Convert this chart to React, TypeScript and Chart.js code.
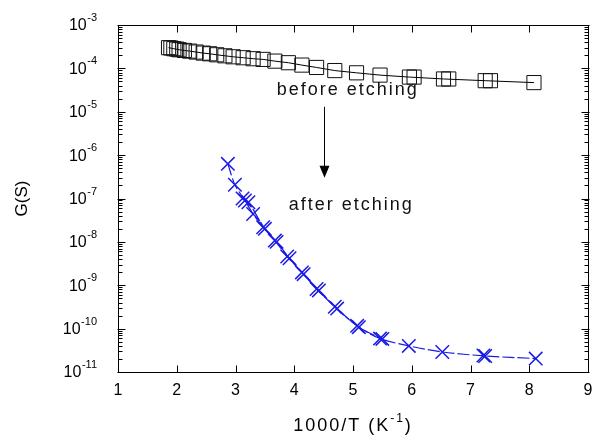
import React, { useEffect, useRef } from 'react';
import { Chart, registerables } from 'chart.js';
Chart.register(...registerables);

// "before etching" run (squares)
const beforeX = [1.86, 1.95, 2.04, 2.13, 2.22, 2.33, 2.45, 2.56, 2.68, 2.82, 2.96, 3.13, 3.30, 3.47, 3.67, 3.90, 4.13, 4.38, 4.69, 5.06, 5.46, 5.96, 6.54, 7.25, 8.08];
const beforeG = [3.0e-4, 2.84e-4, 2.69e-4, 2.59e-4, 2.5e-4, 2.38e-4, 2.25e-4, 2.17e-4, 2.06e-4, 1.95e-4, 1.85e-4, 1.76e-4, 1.67e-4, 1.61e-4, 1.47e-4, 1.35e-4, 1.19e-4, 1.05e-4, 8.9e-5, 7.9e-5, 7.0e-5, 6.3e-5, 5.7e-5, 5.2e-5, 4.7e-5];
// repeated measurements (overlapping squares)
const beforeX2 = [1.90, 2.00, 6.04, 6.63, 7.34];
const beforeG2 = [2.95e-4, 2.78e-4, 6.3e-5, 5.7e-5, 5.2e-5];

// "after etching" run (crosses)
const afterX = [2.87, 2.99, 3.16, 3.30, 3.47, 3.67, 3.88, 4.13, 4.38, 4.69, 5.07, 5.46, 5.95, 6.52, 7.25, 8.11];
const afterG = [6.3e-7, 2.07e-7, 9.0e-8, 4.4e-8, 2.17e-8, 1.07e-8, 4.6e-9, 1.98e-9, 8.2e-10, 3.2e-10, 1.16e-10, 5.9e-11, 4.0e-11, 2.9e-11, 2.34e-11, 2.04e-11];
// repeated measurements (second, slightly offset run)
const afterX2 = [3.12, 3.22, 3.50, 3.70, 3.92, 4.16, 4.42, 4.73, 5.10, 5.50];
const afterG2 = [1.0e-7, 8.2e-8, 2.0e-8, 1.0e-8, 4.2e-9, 1.8e-9, 7.6e-10, 2.9e-10, 1.08e-10, 5.8e-11];
const afterX3 = [7.22];
const afterG3 = [2.4e-11];

const xTicks = [1, 2, 3, 4, 5, 6, 7, 8, 9];
const yExponents = [-3, -4, -5, -6, -7, -8, -9, -10, -11];

const xTitle = '1000/T (K';
const xTitleSup = '-1';
const yTitle = 'G(S)';
const labelBefore = 'before etching';
const labelAfter = 'after etching';
const labelBeforePos = { x: 4.91, g: 2.45e-5 };
const labelAfterPos = { x: 4.97, g: 5.4e-8 };
const arrow = { x: 4.5, from: 1.3e-5, to: 3.0e-7 };

const FONT = '"Liberation Sans", Arial, sans-serif';
const BLUE = '#1a1ae6';

const pts = (xs: number[], ys: number[]) => xs.map((x, i) => ({ x, y: ys[i] }));

const framePlugin = {
  id: 'framePlugin',
  afterDraw(chart: any) {
    const { ctx, chartArea: a, scales } = chart;
    const xs = scales.x;
    const ys = scales.y;
    ctx.save();
    ctx.strokeStyle = '#000';
    ctx.fillStyle = '#000';
    ctx.lineWidth = 1;
    const L = Math.round(a.left) + 0.5;
    const R = Math.round(a.right) + 0.5;
    const T = Math.round(a.top) + 0.5;
    const B = Math.round(a.bottom) + 0.5;
    ctx.strokeRect(L, T, R - L, B - T);

    ctx.beginPath();
    xTicks.forEach((v) => {
      const px = Math.round(xs.getPixelForValue(v)) + 0.5;
      if (v > xTicks[0] && v < xTicks[xTicks.length - 1]) {
        ctx.moveTo(px, B);
        ctx.lineTo(px, B - 7);
        ctx.moveTo(px, T);
        ctx.lineTo(px, T + 7);
      }
    });
    for (let e = -11; e <= -3; e++) {
      const py = Math.round(ys.getPixelForValue(Math.pow(10, e))) + 0.5;
      ctx.moveTo(L - 1, py);
      ctx.lineTo(L + 7, py);
      ctx.moveTo(R + 1, py);
      ctx.lineTo(R - 7, py);
      if (e < -3) {
        for (let k = 2; k <= 9; k++) {
          const my = Math.round(ys.getPixelForValue(k * Math.pow(10, e))) + 0.5;
          ctx.moveTo(L, my);
          ctx.lineTo(L + 4, my);
          ctx.moveTo(R, my);
          ctx.lineTo(R - 4, my);
        }
      }
    }
    ctx.stroke();

    ctx.font = `16px ${FONT}`;
    ctx.textAlign = 'center';
    ctx.textBaseline = 'middle';
    xTicks.forEach((v) => {
      ctx.fillText(String(v), xs.getPixelForValue(v), a.bottom + 19);
    });

    yExponents.forEach((e) => {
      const py = ys.getPixelForValue(Math.pow(10, e));
      const right = a.left - 21;
      ctx.font = `11px ${FONT}`;
      ctx.textAlign = 'right';
      ctx.textBaseline = 'middle';
      const sup = String(e);
      const sw = ctx.measureText(sup).width;
      ctx.fillText(sup, right, py - 7);
      ctx.font = `16px ${FONT}`;
      ctx.fillText('10', right - sw - 0.5, py + 1);
    });

    (ctx as any).letterSpacing = '2px';
    ctx.font = `18px ${FONT}`;
    const w1 = ctx.measureText(xTitle).width;
    ctx.font = `12px ${FONT}`;
    const w2 = ctx.measureText(xTitleSup).width;
    ctx.font = `18px ${FONT}`;
    const w3 = ctx.measureText(')').width;
    const total = w1 + w2 + w3;
    let sx = (a.left + a.right) / 2 - total / 2;
    const ty = 426;
    ctx.textAlign = 'left';
    ctx.textBaseline = 'middle';
    ctx.fillText(xTitle, sx, ty);
    sx += w1;
    ctx.font = `12px ${FONT}`;
    ctx.fillText(xTitleSup, sx, ty - 7);
    sx += w2;
    ctx.font = `18px ${FONT}`;
    ctx.fillText(')', sx, ty);

    (ctx as any).letterSpacing = '0px';
    ctx.save();
    ctx.translate(22, (a.top + a.bottom) / 2);
    ctx.rotate(-Math.PI / 2);
    ctx.font = `17px ${FONT}`;
    ctx.textAlign = 'center';
    ctx.textBaseline = 'middle';
    ctx.fillText(yTitle, 0, 0);
    ctx.restore();

    (ctx as any).letterSpacing = '2px';
    ctx.font = `18px ${FONT}`;
    ctx.textAlign = 'center';
    ctx.textBaseline = 'alphabetic';
    ctx.fillStyle = '#111';
    ctx.fillText(labelBefore, xs.getPixelForValue(labelBeforePos.x), ys.getPixelForValue(labelBeforePos.g));
    ctx.fillText(labelAfter, xs.getPixelForValue(labelAfterPos.x), ys.getPixelForValue(labelAfterPos.g));
    (ctx as any).letterSpacing = '0px';

    const ax = Math.round(xs.getPixelForValue(arrow.x)) + 0.5;
    const ay1 = ys.getPixelForValue(arrow.from);
    const ay2 = ys.getPixelForValue(arrow.to);
    ctx.strokeStyle = '#000';
    ctx.fillStyle = '#000';
    ctx.beginPath();
    ctx.moveTo(ax, ay1);
    ctx.lineTo(ax, ay2 - 10);
    ctx.stroke();
    ctx.beginPath();
    ctx.moveTo(ax, ay2);
    ctx.lineTo(ax - 5, ay2 - 12);
    ctx.lineTo(ax + 5, ay2 - 12);
    ctx.closePath();
    ctx.fill();
    ctx.restore();
  },
};

export default function App() {
  const ref = useRef<HTMLCanvasElement>(null);
  useEffect(() => {
    const canvas = ref.current;
    if (!canvas) return;
    const crossStyle = {
      borderColor: BLUE,
      borderWidth: 1.2,
      borderDash: [12, 3],
      backgroundColor: 'transparent',
      pointStyle: 'crossRot',
      pointRadius: 9.5,
      pointBorderWidth: 1.5,
      pointBorderColor: BLUE,
      tension: 0.3,
    };
    const chart = new Chart(canvas, {
      type: 'line',
      data: {
        datasets: [
          {
            label: 'before etching',
            data: pts(beforeX, beforeG),
            borderColor: '#000',
            borderWidth: 1,
            backgroundColor: 'transparent',
            pointStyle: 'rect',
            pointRadius: 10,
            pointBorderWidth: 1,
            pointBorderColor: '#111',
            pointBackgroundColor: 'transparent',
            tension: 0,
          },
          {
            label: 'before etching (repeat)',
            data: pts(beforeX2, beforeG2),
            showLine: false,
            pointStyle: 'rect',
            pointRadius: 10,
            pointBorderWidth: 1,
            pointBorderColor: '#111',
            pointBackgroundColor: 'transparent',
          },
          { label: 'after etching', data: pts(afterX, afterG), ...crossStyle },
          { label: 'after etching (repeat)', data: pts(afterX2, afterG2), ...crossStyle },
          { label: 'after etching (repeat 2)', data: pts(afterX3, afterG3), ...crossStyle, showLine: false },
        ],
      },
      options: {
        responsive: false,
        animation: false,
        layout: { padding: { left: 118, top: 25, right: 12, bottom: 64 } },
        plugins: { legend: { display: false }, tooltip: { enabled: false } },
        scales: {
          x: { type: 'linear', min: 1, max: 9, display: false },
          y: { type: 'logarithmic', min: 1e-11, max: 1e-3, display: false },
        },
      },
      plugins: [framePlugin],
    } as any);
    return () => chart.destroy();
  }, []);
  return (
    <div style={{ position: 'absolute', left: 0, top: 0, width: 600, height: 436, background: '#fff' }}>
      <canvas ref={ref} width={600} height={436} />
    </div>
  );
}
